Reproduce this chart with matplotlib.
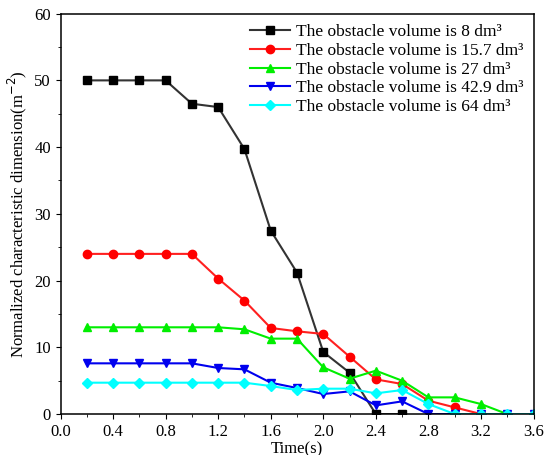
import matplotlib.pyplot as plt
from matplotlib.ticker import MultipleLocator

plt.rcParams['font.family'] = ['Liberation Serif', 'DejaVu Serif']

t_black = [0.2, 0.4, 0.6, 0.8, 1.0, 1.2, 1.4, 1.6, 1.8, 2.0, 2.2, 2.4, 2.6]
v_black = [50, 50, 50, 50, 46.5, 46, 39.7, 27.5, 21.2, 9.3, 6.2, 0, 0]
t_red = [0.2, 0.4, 0.6, 0.8, 1.0, 1.2, 1.4, 1.6, 1.8, 2.0, 2.2, 2.4, 2.6, 2.8, 3.0, 3.2]
v_red = [24, 24, 24, 24, 24, 20.3, 17, 12.9, 12.4, 12, 8.6, 5.2, 4.5, 2, 1, 0]
t_green = [0.2, 0.4, 0.6, 0.8, 1.0, 1.2, 1.4, 1.6, 1.8, 2.0, 2.2, 2.4, 2.6, 2.8, 3.0, 3.2, 3.4]
v_green = [13, 13, 13, 13, 13, 13, 12.7, 11.3, 11.3, 7, 5.3, 6.5, 5, 2.5, 2.5, 1.5, 0]
t_blue = [0.2, 0.4, 0.6, 0.8, 1.0, 1.2, 1.4, 1.6, 1.8, 2.0, 2.2, 2.4, 2.6, 2.8, 3.0, 3.2, 3.4, 3.6]
v_blue = [7.6, 7.6, 7.6, 7.6, 7.6, 6.9, 6.7, 4.7, 3.9, 3.0, 3.4, 1.3, 1.9, 0, 0, 0, 0, 0]
t_cyan = [0.2, 0.4, 0.6, 0.8, 1.0, 1.2, 1.4, 1.6, 1.8, 2.0, 2.2, 2.4, 2.6, 2.8, 3.0, 3.2, 3.4, 3.6]
v_cyan = [4.7, 4.7, 4.7, 4.7, 4.7, 4.7, 4.7, 4.2, 3.6, 3.8, 3.8, 3.1, 3.6, 1.5, 0, 0, 0, 0]

fig, ax = plt.subplots(figsize=(5.5, 4.55), dpi=100)
ax.plot(t_black, v_black, '-s', color='#333333', mfc='black', mec='black', ms=6, lw=1.5, label='The obstacle volume is 8 dm³')
ax.plot(t_red, v_red, '-o', color='#ff2020', mfc='red', mec='red', ms=6, lw=1.5, label='The obstacle volume is 15.7 dm³')
ax.plot(t_green, v_green, '-^', color='#00ee00', ms=6, lw=1.5, label='The obstacle volume is 27 dm³')
ax.plot(t_blue, v_blue, '-v', color='#0000ee', ms=6, lw=1.5, label='The obstacle volume is 42.9 dm³')
ax.plot(t_cyan, v_cyan, '-D', color='#00ffff', ms=5, lw=1.5, label='The obstacle volume is 64 dm³')

ax.set_xlim(0, 3.6)
ax.set_ylim(0, 60)
ax.xaxis.set_major_locator(MultipleLocator(0.4))
ax.xaxis.set_minor_locator(MultipleLocator(0.2))
ax.yaxis.set_major_locator(MultipleLocator(10))
ax.yaxis.set_minor_locator(MultipleLocator(5))
ax.xaxis.set_major_formatter(lambda v, p: f'{v:.1f}')
ax.tick_params(labelsize=12)
for s in ax.spines.values():
    s.set_linewidth(1.1)
ax.set_xlabel('Time(s)', fontsize=12, labelpad=1)
ax.set_ylabel('Normalized characteristic dimension(m$^{-2}$)', fontsize=12)
ax.legend(loc='upper right', frameon=False, fontsize=12.5, handlelength=2.3, handletextpad=0.3,
          borderaxespad=0.2, labelspacing=0.15)
plt.subplots_adjust(left=0.11, right=0.97, top=0.97, bottom=0.09)
plt.savefig('out.png')
